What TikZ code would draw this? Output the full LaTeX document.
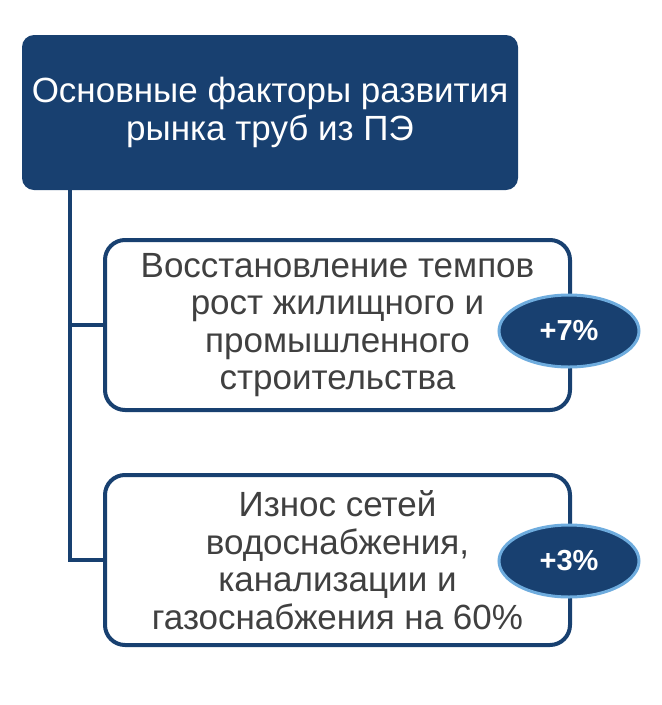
\documentclass[tikz,border=0pt]{standalone}
\usepackage{fontspec}
\setmainfont{Liberation Sans}
\usetikzlibrary{positioning,shapes.geometric}
\definecolor{MarketNavy}{RGB}{24,64,112}
\definecolor{MarketGlow}{RGB}{110,172,222}
\definecolor{MarketText}{RGB}{64,64,64}

\begin{document}
\begin{tikzpicture}[x=1pt, y=-1pt,
  headbox/.style={fill=MarketNavy, rounded corners=12pt, text=white, align=center, minimum width=496pt, minimum height=155pt, font=\fontsize{35}{38}\selectfont},
  factorbox/.style={draw=MarketNavy, fill=white, rounded corners=20pt, align=center, text=MarketText, minimum width=465pt, minimum height=170pt, line width=4pt, font=\fontsize{35}{37.5}\selectfont},
  growth/.style={ellipse, draw=MarketGlow, fill=MarketNavy, text=white, minimum width=140pt, minimum height=72pt, line width=3pt, font=\bfseries\fontsize{29}{32}\selectfont},
  trunk/.style={draw=MarketNavy, line width=4pt}
]
\useasboundingbox (0,0) rectangle (662,705);

% Header
\node[headbox] (main) at (270,112.5) {Основные факторы развития\\рынка труб из ПЭ};

% Factors
\node[factorbox] (f1) at (337.5,325) {Восстановление темпов\\рост жилищного и\\промышленного\\строительства};
\node[factorbox] (f2) at (337.5,560) {Износ сетей\\водоснабжения,\\канализации и\\газоснабжения на 60\%};

% Growth badges
\node[growth] (p1) at (569,331) {+7\%};
\node[growth] (p2) at (569,561) {+3\%};

% Connectors
\coordinate (root) at ([xshift=48pt]main.south west);
\draw[trunk] (root) |- (f1.west);
\draw[trunk] (root) |- (f2.west);
\end{tikzpicture}
\end{document}
